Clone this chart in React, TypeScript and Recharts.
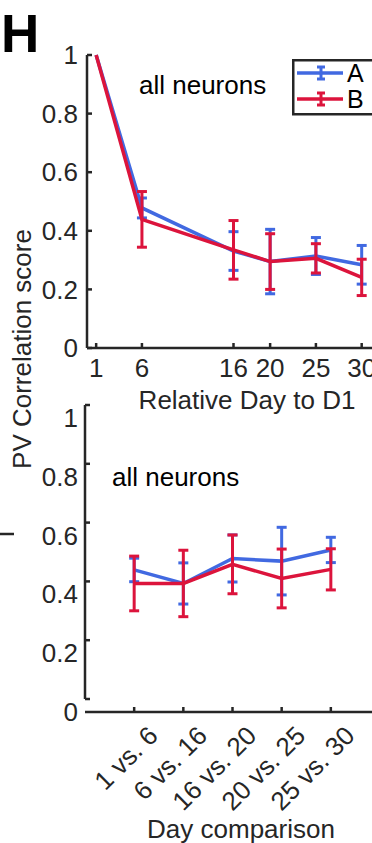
import {
  LineChart,
  Line,
  XAxis,
  YAxis,
  ErrorBar,
  Legend,
  ReferenceLine,
} from "recharts";

const BLUE = "#4169e1";
const RED = "#dc143c";
const AXIS = "#262626";
const FONT = "'Liberation Sans', Arial, sans-serif";

// top panel: PV correlation vs day 1
const days = [1, 6, 16, 20, 25, 30];
const aMean = [1.0, 0.478, 0.331, 0.295, 0.314, 0.284];
const aErr = [0, 0.034, 0.066, 0.11, 0.063, 0.066];
const bMean = [1.0, 0.439, 0.335, 0.295, 0.306, 0.241];
const bErr = [0, 0.095, 0.1, 0.095, 0.05, 0.062];

// bottom panel: consecutive day pairs
const pairs = ["1 vs. 6", "6 vs. 16", "16 vs. 20", "20 vs. 25", "25 vs. 30"];
const pairA = [0.439, 0.393, 0.478, 0.469, 0.507];
const pairAErr = [0.04, 0.07, 0.08, 0.115, 0.043];
const pairB = [0.393, 0.393, 0.458, 0.41, 0.441];
const pairBErr = [0.093, 0.113, 0.1, 0.1, 0.07];

const yTicks = [0, 0.2, 0.4, 0.6, 0.8, 1];

const topData = days.map((d, i) => ({
  day: d,
  A: aMean[i],
  aErr: aErr[i],
  B: bMean[i],
  bErr: bErr[i],
}));

const bottomData = pairs.map((p, i) => ({
  idx: i + 1,
  label: p,
  A: pairA[i],
  aErr: pairAErr[i],
  B: pairB[i],
  bErr: pairBErr[i],
}));

const tickStyle = { fill: AXIS, fontSize: 26, fontFamily: FONT };

function LegendBox({ payload }: any) {
  const items = (payload || []).filter((p: any) => p.value === "A" || p.value === "B");
  return (
    <svg width={100} height={58}>
      <rect x={1.25} y={1.25} width={110} height={54} fill="#fff" stroke={AXIS} strokeWidth={2.5} />
      {items.map((p: any, i: number) => {
        const cy = 14 + i * 26;
        return (
          <g key={p.value}>
            <line x1={5} x2={51} y1={cy} y2={cy} stroke={p.color} strokeWidth={3.5} />
            <line x1={29} x2={29} y1={cy - 6} y2={cy + 6} stroke={p.color} strokeWidth={3} />
            <line x1={25} x2={33} y1={cy - 6} y2={cy - 6} stroke={p.color} strokeWidth={3} />
            <line x1={25} x2={33} y1={cy + 6} y2={cy + 6} stroke={p.color} strokeWidth={3} />
            <text x={55} y={cy + 9} fontSize={25} fontFamily={FONT} fill="#000">
              {p.value}
            </text>
          </g>
        );
      })}
    </svg>
  );
}

function ShiftedYTick({ x, y, payload }: any) {
  return (
    <text x={x} y={y + 13} textAnchor="end" dominantBaseline="central" {...tickStyle}>
      {payload.value}
    </text>
  );
}

function PairTick({ x, payload }: any) {
  const ax = x + 19;
  const ay = 351;
  return (
    <text
      x={ax}
      y={ay}
      textAnchor="end"
      dominantBaseline="central"
      transform={`rotate(-45, ${ax}, ${ay})`}
      {...tickStyle}
    >
      {pairs[payload.value - 1]}
    </text>
  );
}

export default function App() {
  return (
    <div
      style={{
        position: "absolute",
        left: 0,
        top: 0,
        width: 372,
        height: 843,
        overflow: "hidden",
        background: "#fff",
        fontFamily: FONT,
      }}
    >
      <div style={{ position: "absolute", left: 0, top: 0 }}>
        <LineChart width={420} height={400} data={topData} margin={{ top: 55, right: 40, left: 0, bottom: 0 }}>
          <XAxis
            type="number"
            dataKey="day"
            domain={[0, 32]}
            ticks={days}
            interval={0}
            height={52}
            stroke={AXIS}
            strokeWidth={2.5}
            tickSize={-5}
            tickMargin={16}
            tick={tickStyle}
          />
          <YAxis
            type="number"
            domain={[0, 1]}
            ticks={yTicks}
            width={87}
            stroke={AXIS}
            strokeWidth={2.5}
            tickSize={-5}
            tickMargin={14}
            tick={tickStyle}
          />
          <Legend
            layout="horizontal"
            verticalAlign="middle"
            align="center"
            content={<LegendBox />}
            wrapperStyle={{ left: 292, top: 59, width: 100, height: 58 }}
          />
          <Line type="linear" dataKey="A" name="A" stroke={BLUE} strokeWidth={3.5} dot={false} isAnimationActive={false}>
            <ErrorBar dataKey="aErr" direction="y" width={5} stroke={BLUE} strokeWidth={3} isAnimationActive={false} />
          </Line>
          <Line type="linear" dataKey="B" name="B" stroke={RED} strokeWidth={3.5} dot={false} isAnimationActive={false}>
            <ErrorBar dataKey="bErr" direction="y" width={5} stroke={RED} strokeWidth={3} isAnimationActive={false} />
          </Line>
        </LineChart>
      </div>

      <div style={{ position: "absolute", left: 0, top: 380 }}>
        <LineChart width={420} height={463} data={bottomData} margin={{ top: 25, right: 40, left: 0, bottom: 0 }}>
          <XAxis
            type="number"
            dataKey="idx"
            domain={[0, 6]}
            ticks={[1, 2, 3, 4, 5]}
            interval={0}
            height={131}
            stroke={AXIS}
            strokeWidth={2.5}
            tickSize={-5}
            tick={<PairTick />}
          />
          <YAxis
            type="number"
            domain={[-0.0442, 1]}
            ticks={yTicks}
            allowDataOverflow
            width={85}
            axisLine={false}
            stroke={AXIS}
            strokeWidth={2.5}
            tickSize={-5}
            tickMargin={12}
            tick={<ShiftedYTick />}
          />
          <ReferenceLine
            segment={[
              { x: 0, y: 0 },
              { x: 0, y: 1 },
            ]}
            stroke={AXIS}
            strokeWidth={2.5}
            ifOverflow="visible"
          />
          <Line type="linear" dataKey="A" stroke={BLUE} strokeWidth={3.5} dot={false} isAnimationActive={false}>
            <ErrorBar dataKey="aErr" direction="y" width={5} stroke={BLUE} strokeWidth={3} isAnimationActive={false} />
          </Line>
          <Line type="linear" dataKey="B" stroke={RED} strokeWidth={3.5} dot={false} isAnimationActive={false}>
            <ErrorBar dataKey="bErr" direction="y" width={5} stroke={RED} strokeWidth={3} isAnimationActive={false} />
          </Line>
        </LineChart>
      </div>

      <svg
        width={372}
        height={843}
        style={{ position: "absolute", left: 0, top: 0, pointerEvents: "none" }}
        fontFamily={FONT}
      >
        <text x={1} y={52} fontSize={53} fontWeight="bold" fill="#000">
          H
        </text>
        <text x={139} y={94} fontSize={26} fill="#000">
          all neurons
        </text>
        <text x={112} y={486} fontSize={26} fill="#000">
          all neurons
        </text>
        <text x={247} y={409} fontSize={26} fill={AXIS} textAnchor="middle">
          Relative Day to D1
        </text>
        <text x={241} y={838} fontSize={26} fill={AXIS} textAnchor="middle">
          Day comparison
        </text>
        <text
          x={31}
          y={349}
          fontSize={26}
          fill={AXIS}
          textAnchor="middle"
          transform="rotate(-90, 31, 349)"
        >
          PV Correlation score
        </text>
        <line x1={0} x2={14} y1={534} y2={534} stroke={AXIS} strokeWidth={2.5} />
      </svg>
    </div>
  );
}
